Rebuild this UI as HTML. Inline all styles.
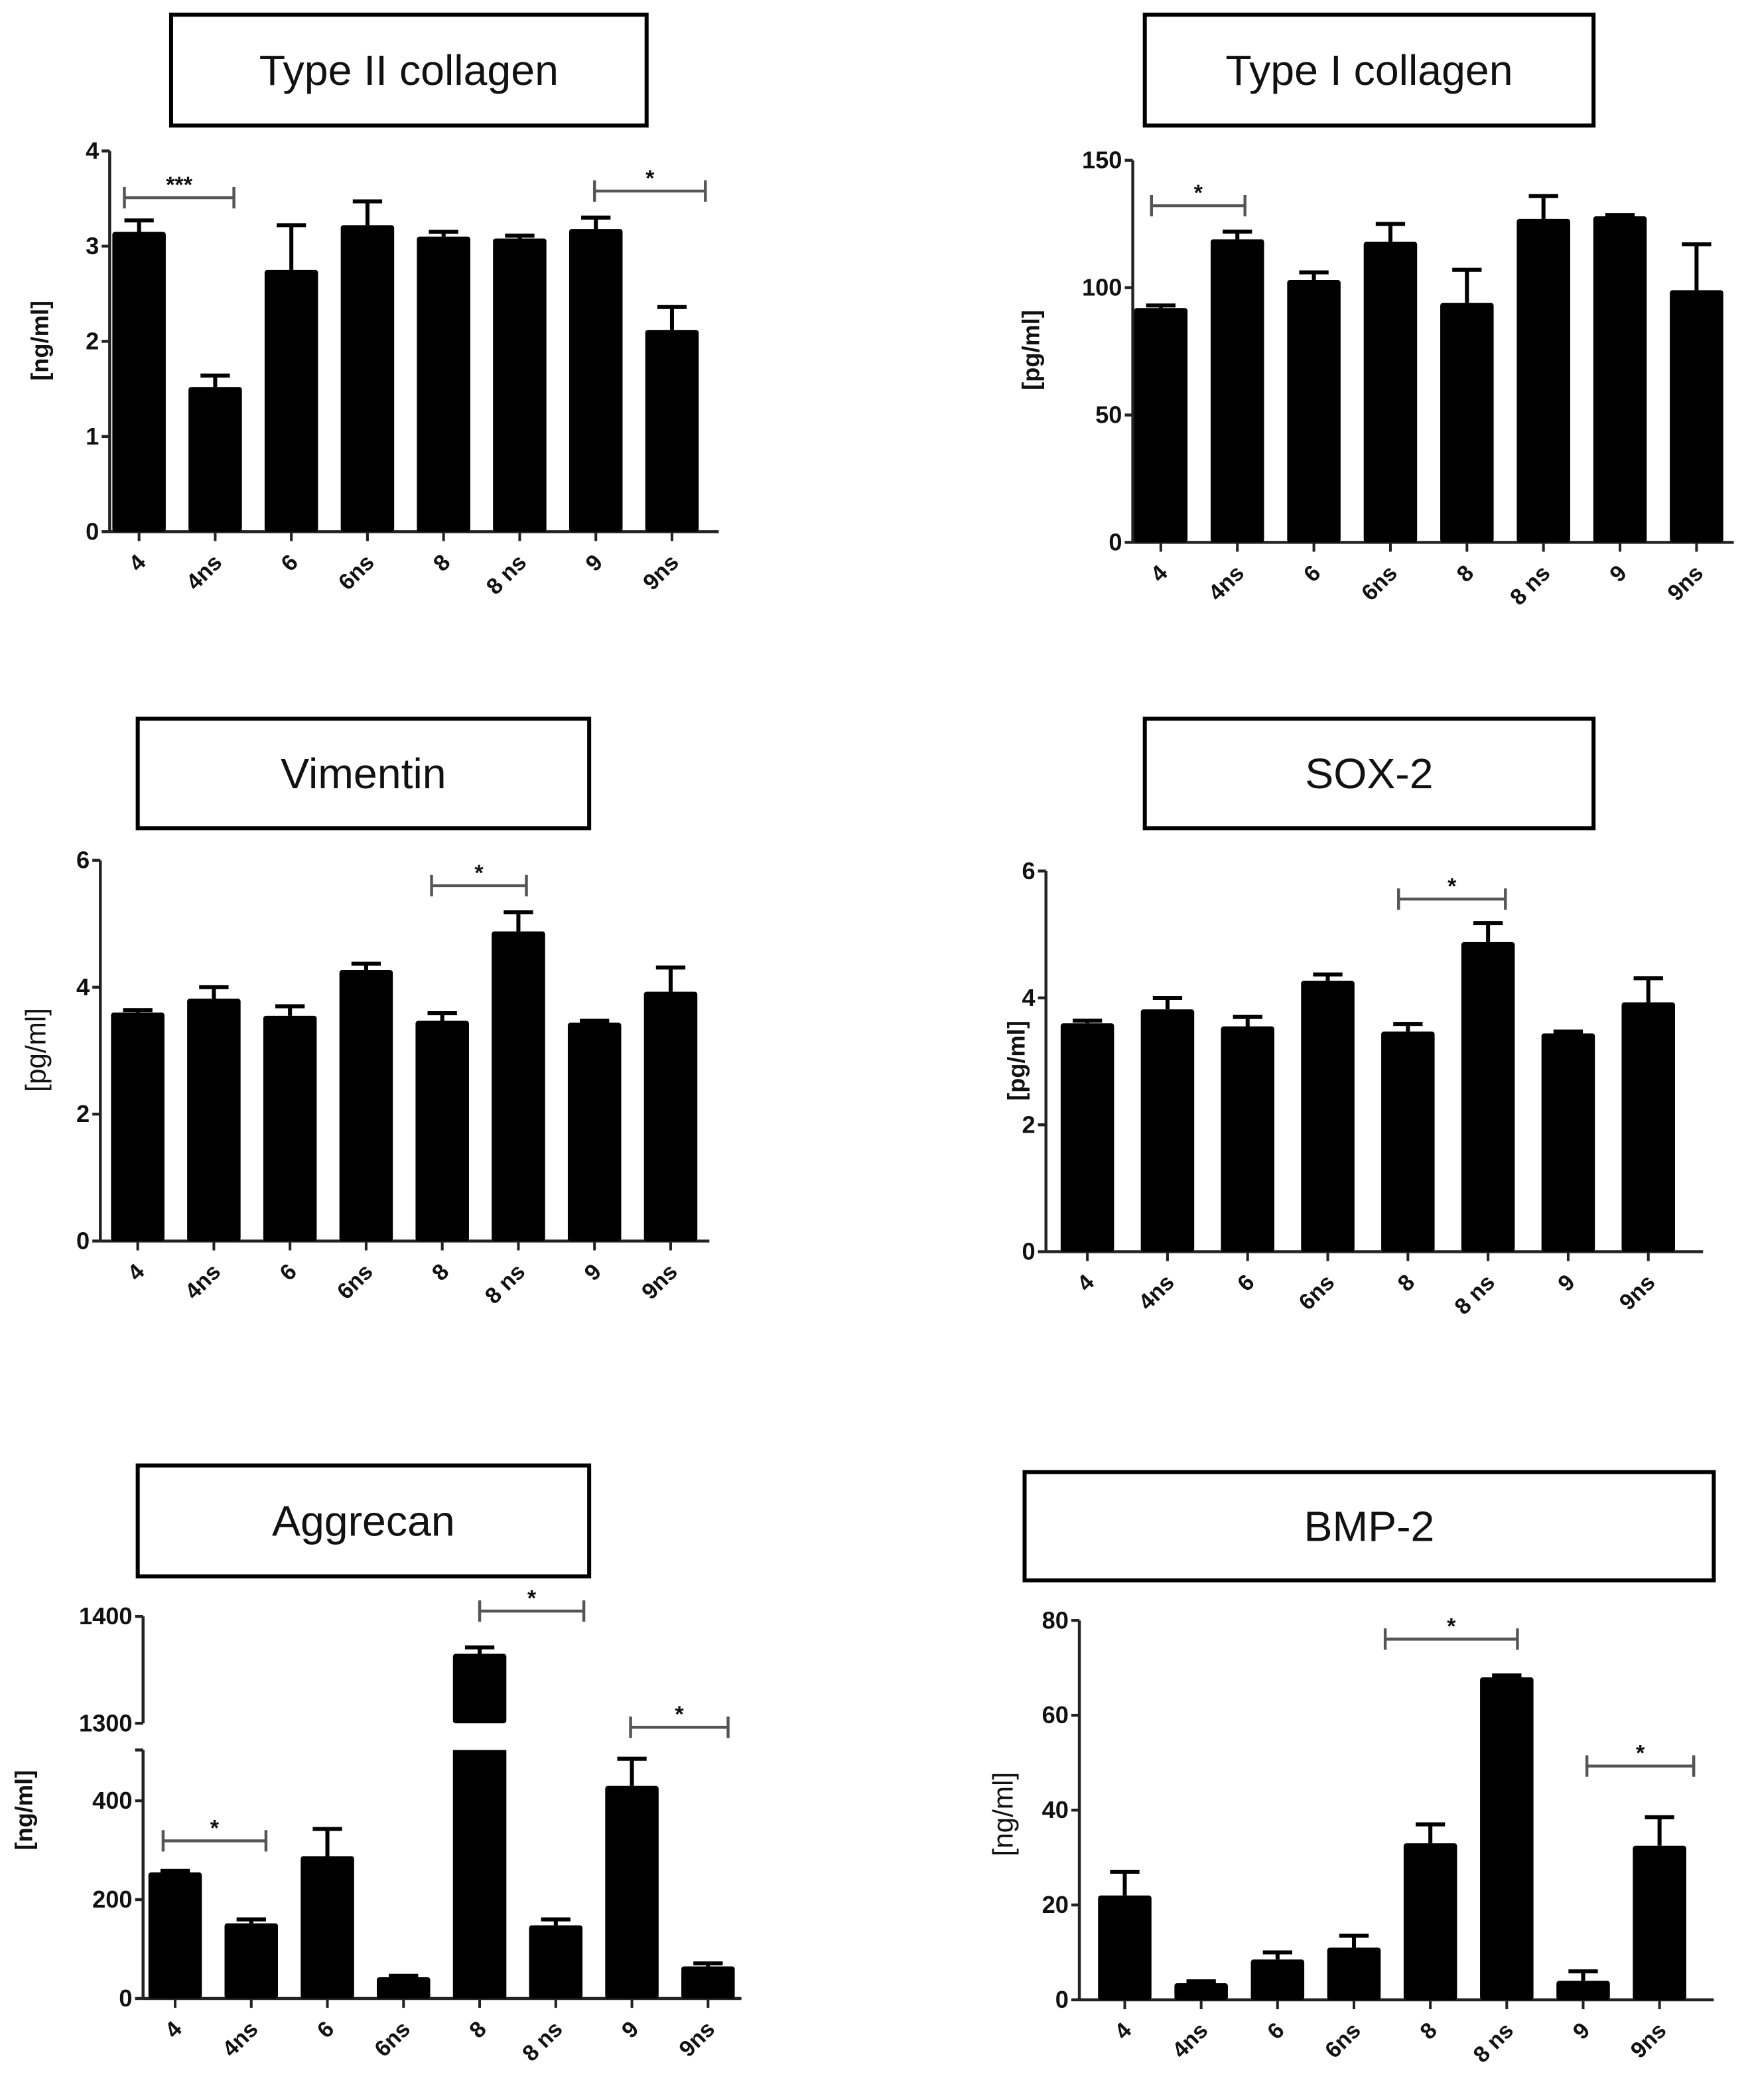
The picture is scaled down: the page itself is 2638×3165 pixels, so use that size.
<!DOCTYPE html>
<html><head><meta charset="utf-8"><style>
html,body{margin:0;padding:0;background:#fff;}
svg{display:block;}
text{font-family:"Liberation Sans",Arial,sans-serif;}
</style></head><body>
<svg id="fig" width="2638" height="3165" viewBox="0 0 1310 1572" xmlns="http://www.w3.org/2000/svg"></svg>
<script>
const cats = ["4","4ns","6","6ns","8","8 ns","9","9ns"];
// Type II collagen
const t2Vals = [3.15,1.52,2.75,3.22,3.1,3.08,3.18,2.12];
const t2Errs = [0.12,0.12,0.47,0.25,0.05,0.03,0.12,0.24];
const t2Ticks = [0,1,2,3,4];
// Type I collagen
const t1Vals = [92,119,103,118,94,127,128,99];
const t1Errs = [1,3,3,7,13,9,0.5,18];
const t1Ticks = [0,50,100,150];
// Vimentin
const vimVals = [3.6,3.82,3.55,4.27,3.47,4.88,3.44,3.93];
const vimErrs = [0.04,0.18,0.15,0.1,0.12,0.3,0.03,0.38];
const vimTicks = [0,2,4,6];
// SOX-2
const soxVals = [3.6,3.82,3.55,4.27,3.47,4.88,3.44,3.93];
const soxErrs = [0.04,0.18,0.15,0.1,0.12,0.3,0.03,0.38];
const soxTicks = [0,2,4,6];
// Aggrecan (broken axis)
const aggVals = [255,152,288,43,1365,148,430,65];
const aggErrs = [3,8,55,3,6,12,55,6];
const aggTicksLow = [0,200,400];
const aggTicksHigh = [1300,1400];
// BMP-2
const bmpVals = [22,3.5,8.5,11,33,68,4,32.5];
const bmpErrs = [5,0.4,1.5,2.5,4,0.4,2,6];
const bmpTicks = [0,20,40,60,80];

const NS="http://www.w3.org/2000/svg";
const svg=document.getElementById('fig');
function mk(tag,attrs,parent){const e=document.createElementNS(NS,tag);for(const k in attrs)e.setAttribute(k,attrs[k]);(parent||svg).appendChild(e);return e;}

function panel(o){
  const g=mk('g',{});
  
  
  const tb=mk('rect',{x:o.box[0],y:o.box[1],width:o.box[2]-o.box[0],height:o.box[3]-o.box[1],fill:'#fff',stroke:'#000','stroke-width':3},g);
  
  
  const tt=mk('text',{x:(o.box[0]+o.box[2])/2,y:(o.box[1]+o.box[3])/2+11,'text-anchor':'middle','font-size':32,fill:'#111'},g);
  tt.textContent=o.title;
  
  
  const y=o.y;
  const ax=mk('g',{stroke:'#222','stroke-width':2.2,fill:'none'},g);
  
  
  if(o.broken){
    mk('line',{x1:o.ax,y1:y(0),x2:o.ax,y2:o.lowTopY},ax);
    mk('line',{x1:o.ax-6,y1:o.lowTopY,x2:o.ax,y2:o.lowTopY},ax);
    mk('line',{x1:o.ax,y1:o.yh(1400),x2:o.ax,y2:o.yh(1300)},ax);
  } else {
    mk('line',{x1:o.ax,y1:y(0),x2:o.ax,y2:y(o.ticks[o.ticks.length-1])},ax);
  }
  mk('line',{x1:o.ax,y1:y(0),x2:o.xEnd,y2:y(0)},ax);
  const tickList=o.broken?o.ticks.map(v=>[v,y(v)]).concat(o.ticksHigh.map(v=>[v,o.yh(v)])):o.ticks.map(v=>[v,y(v)]);
  tickList.forEach(([v,py])=>{
    mk('line',{x1:o.ax-6,y1:py,x2:o.ax,y2:py},ax);
    const t=mk('text',{x:o.ax-8,y:py+6,'text-anchor':'end','font-size':18,'font-weight':'bold',fill:'#111'},g);
    t.textContent=v;
    
    
  });
  const yl=mk('text',{transform:`translate(${o.ylx},${o.yly}) rotate(-90)`,'text-anchor':'middle','font-size':o.ylBold?18:21,'font-weight':o.ylBold?'bold':'normal',fill:'#111'},g);
  yl.textContent=o.ylabel;
  
  
  const bw=40;
  cats.forEach((c,i)=>{
    const cx=o.x0+i*o.dx;
    const v=o.vals[i], e=o.errs[i];
    const ey=v+e;
    let topY, errY;
    if(o.broken && v>1300){topY=o.yh(v);errY=o.yh(ey);}
    else {topY=y(v);errY=y(ey);}
    const eb=mk('path',{d:`M${cx},${topY} V${errY} M${cx-11},${errY} H${cx+11}`,stroke:'#000','stroke-width':3,fill:'none'},g);
    
    
    if(o.broken && v>1300){
      const b1=mk('rect',{x:cx-bw/2,y:o.lowTopY,width:bw,height:y(0)-o.lowTopY,fill:'#000'},g);
      
      
      const b2=mk('rect',{x:cx-bw/2,y:topY,width:bw,height:o.yh(1300)-topY,fill:'#000',rx:2},g);
      
      
    } else {
      const b=mk('rect',{x:cx-bw/2,y:topY,width:bw,height:y(0)-topY,fill:'#000',rx:2},g);
      
      
    }
    mk('line',{x1:cx,y1:y(0),x2:cx,y2:y(0)+7,stroke:'#222','stroke-width':2},g);
    const lx=cx+6, ly=y(0)+24;
    const xl=mk('text',{transform:`translate(${lx},${ly}) rotate(-45)`,'text-anchor':'end','font-size':17,'font-weight':'bold',fill:'#111'},g);
    xl.textContent=c;
    
    
  });
  o.brackets.forEach(b=>{
    const [x1,x2,by,lab]=b;
    const br=mk('path',{d:`M${x1},${by-8} V${by+8} M${x1},${by} H${x2} M${x2},${by-8} V${by+8}`,stroke:'#555','stroke-width':2.2,fill:'none'},g);
    
    
    const st=mk('text',{x:(x1+x2)/2,y:by-4,'text-anchor':'middle','font-size':17,'font-weight':'bold',fill:'#111'},g);
    st.textContent=lab;
    
    
  });
}
function lin(v0,p0,v1,p1){return v=>p0+(v-v0)*(p1-p0)/(v1-v0);}

panel({name:'type-ii-collagen',title:'Type II collagen',box:[128,11,484,94],ax:82,xEnd:538,
  y:lin(0,398,4,113),ticks:t2Ticks,vals:t2Vals,errs:t2Errs,x0:104,dx:57,
  ylabel:'[ng/ml]',ylBold:true,ylx:36,yly:255,
  brackets:[[93,175,148,'***'],[445,528,143,'*']]});
panel({name:'type-i-collagen',title:'Type I collagen',box:[857,11,1193,94],ax:848,xEnd:1298,
  y:lin(0,406,150,120),ticks:t1Ticks,vals:t1Vals,errs:t1Errs,x0:869,dx:57.3,
  ylabel:'[pg/ml]',ylBold:true,ylx:778,yly:262,
  brackets:[[862,932,154,'*']]});
panel({name:'vimentin',title:'Vimentin',box:[103,538,441,620],ax:75,xEnd:531,
  y:lin(0,929,6,644),ticks:vimTicks,vals:vimVals,errs:vimErrs,x0:103,dx:57,
  ylabel:'[pg/ml]',ylBold:false,ylx:34,yly:786,
  brackets:[[323,394,663,'*']]});
panel({name:'sox-2',title:'SOX-2',box:[857,538,1193,620],ax:783,xEnd:1275,
  y:lin(0,937,6,652),ticks:soxTicks,vals:soxVals,errs:soxErrs,x0:814,dx:60,
  ylabel:'[pg/ml]',ylBold:true,ylx:767,yly:794,
  brackets:[[1047,1127,673,'*']]});
panel({name:'aggrecan',title:'Aggrecan',box:[103,1097,441,1180],ax:107,xEnd:555,broken:true,
  y:lin(0,1496,400,1348),yh:lin(1300,1290,1400,1210),lowTopY:1310,
  ticks:aggTicksLow,ticksHigh:aggTicksHigh,vals:aggVals,errs:aggErrs,x0:131,dx:57,
  ylabel:'[ng/ml]',ylBold:true,ylx:24,yly:1355,
  brackets:[[122,199,1378,'*'],[359,437,1206,'*'],[472,545,1293,'*']]});
panel({name:'bmp-2',title:'BMP-2',box:[767,1102,1283,1183],ax:808,xEnd:1283,
  y:lin(0,1497,80,1213),ticks:bmpTicks,vals:bmpVals,errs:bmpErrs,x0:842,dx:57.2,
  ylabel:'[ng/ml]',ylBold:false,ylx:758,yly:1358,
  brackets:[[1037,1136,1227,'*'],[1188,1268,1322,'*']]});
</script>
</body></html>
